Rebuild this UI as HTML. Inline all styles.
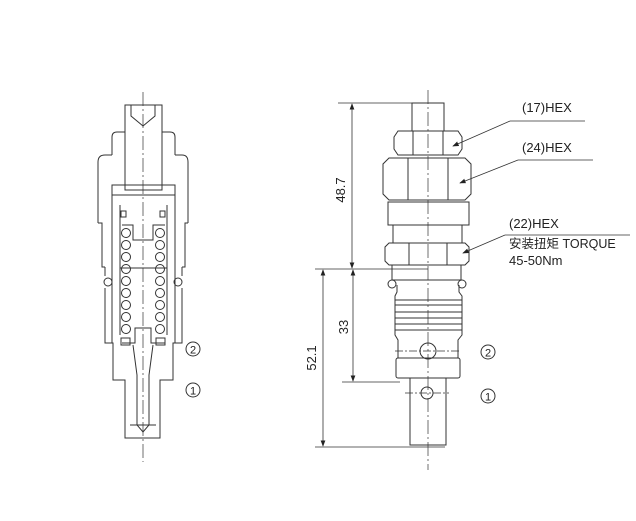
<!DOCTYPE html>
<html><head><meta charset="utf-8"><style>
html,body{margin:0;padding:0;background:#fff;width:636px;height:521px;overflow:hidden}
svg{display:block}
text{font-family:"Liberation Sans","Noto Sans CJK SC",sans-serif;fill:#222}
</style></head><body>
<svg width="636" height="521" viewBox="0 0 636 521" xmlns="http://www.w3.org/2000/svg">
<defs><marker id="a" markerWidth="8" markerHeight="6" refX="7" refY="3" orient="auto"><path d="M0,0 L8,3 L0,6 z" fill="#222"/></marker>
<marker id="b" markerWidth="8" markerHeight="6" refX="1" refY="3" orient="auto"><path d="M8,0 L0,3 L8,6 z" fill="#222"/></marker></defs>
<g stroke="#333" stroke-width="1" fill="none">
<!-- LEFT VIEW -->
<line x1="143" y1="92" x2="143" y2="462" stroke-dasharray="14,3,2,3" stroke-width="0.7"/>
<rect x="125" y="105" width="37" height="85"/>
<polyline points="131,105 131,116 143,126 155,116 155,105"/>
<path d="M112,155 V137 Q112,132 117,132 H125 M162,132 H170 Q175,132 175,137 V155"/>
<path d="M98,223 V162 Q98,155 105,155 H112 M175,155 H182 Q188,155 188,162 V223"/>
<path d="M98,223 H102 V267 H105 M188,223 H185 V267 H182"/>
<circle cx="108" cy="282" r="4"/><circle cx="178" cy="282" r="4"/>
<path d="M105,267 V276 M182,267 V276 M105,288 V343 H113 V380 H125 V438 H160 V380 H173 V343 H182 V288"/>
<rect x="112" y="185" width="63" height="10"/>
<line x1="112" y1="195" x2="112" y2="343"/><line x1="175" y1="195" x2="175" y2="343"/>
<line x1="120" y1="205" x2="120" y2="335"/><line x1="167" y1="205" x2="167" y2="335"/>
<rect x="121" y="211" width="5" height="6"/><rect x="160" y="211" width="5" height="6"/>
<path d="M122,225 H133 V240 H153 V225 H165"/>
<line x1="120" y1="268" x2="167" y2="268"/>
<g>
<circle cx="126" cy="233" r="4.5"/><circle cx="126" cy="245" r="4.5"/><circle cx="126" cy="257" r="4.5"/><circle cx="126" cy="269" r="4.5"/><circle cx="126" cy="281" r="4.5"/><circle cx="126" cy="293" r="4.5"/><circle cx="126" cy="305" r="4.5"/><circle cx="126" cy="317" r="4.5"/><circle cx="126" cy="329" r="4.5"/>
<circle cx="160" cy="233" r="4.5"/><circle cx="160" cy="245" r="4.5"/><circle cx="160" cy="257" r="4.5"/><circle cx="160" cy="269" r="4.5"/><circle cx="160" cy="281" r="4.5"/><circle cx="160" cy="293" r="4.5"/><circle cx="160" cy="305" r="4.5"/><circle cx="160" cy="317" r="4.5"/><circle cx="160" cy="329" r="4.5"/>
</g>
<path d="M122,343 H135 V328 H151 V343 H165"/>
<rect x="121" y="338" width="9" height="7"/><rect x="156" y="338" width="9" height="7"/>
<path d="M133,345 L137,375 V425 L143,432 L149,425 V375 L153,345"/>
<path d="M130,425 H156"/>
<circle cx="193" cy="349" r="7"/><circle cx="193" cy="390" r="7"/>
<!-- RIGHT VIEW -->
<line x1="428" y1="90" x2="428" y2="470" stroke-dasharray="14,3,2,3" stroke-width="0.7"/>
<rect x="412" y="103" width="32" height="28"/>
<path d="M398,131 H458 L462,137 V149 L458,155 H398 L394,149 V137 Z"/>
<line x1="413" y1="131" x2="413" y2="155"/><line x1="443" y1="131" x2="443" y2="155"/>
<path d="M389,158 H465 L471,164 V194 L465,200 H389 L383,194 V164 Z"/>
<line x1="408" y1="158" x2="408" y2="200"/><line x1="448" y1="158" x2="448" y2="200"/>
<rect x="388" y="202" width="81" height="23"/>
<rect x="393" y="225" width="69" height="18"/>
<path d="M389,243 H465 L469,247 V261 L465,265 H389 L385,261 V247 Z"/>
<line x1="409" y1="243" x2="409" y2="265"/><line x1="447" y1="243" x2="447" y2="265"/>
<rect x="392" y="265" width="69" height="15"/>
<circle cx="392" cy="284" r="4"/><circle cx="462" cy="284" r="4"/>
<path d="M397,285 V292 L395,296 V335 L398,340 V358 M459,285 V292 L462,296 V335 L458,340 V358"/>
<line x1="395" y1="300" x2="462" y2="300"/><line x1="395" y1="305" x2="462" y2="305"/><line x1="395" y1="312" x2="462" y2="312"/><line x1="395" y1="318" x2="462" y2="318"/><line x1="395" y1="324" x2="462" y2="324"/><line x1="395" y1="330" x2="462" y2="330"/>
<rect x="396" y="358" width="64" height="20" rx="2"/>
<circle cx="428" cy="351" r="8"/><line x1="395" y1="351" x2="461" y2="351" stroke-dasharray="8,2,2,2" stroke-width="0.7"/>
<path d="M410,378 V445 H446 V378"/>
<circle cx="427" cy="393" r="6"/><line x1="405" y1="393" x2="449" y2="393" stroke-dasharray="8,2,2,2" stroke-width="0.7"/>
<circle cx="488" cy="352" r="7"/><circle cx="488" cy="396" r="7"/>
<!-- dimensions -->
<g stroke-width="0.8">
<line x1="338" y1="103" x2="412" y2="103"/>
<line x1="315" y1="269" x2="428" y2="269"/>
<line x1="342" y1="382" x2="400" y2="382"/>
<line x1="315" y1="447" x2="445" y2="447"/>
<line x1="352" y1="104" x2="352" y2="268" marker-start="url(#b)" marker-end="url(#a)"/>
<line x1="353" y1="270" x2="353" y2="381" marker-start="url(#b)" marker-end="url(#a)"/>
<line x1="323" y1="270" x2="323" y2="446" marker-start="url(#b)" marker-end="url(#a)"/>
<line x1="585" y1="121" x2="510" y2="121"/><line x1="510" y1="121" x2="453" y2="146" marker-end="url(#a)"/>
<line x1="593" y1="160" x2="518" y2="160"/><line x1="518" y1="160" x2="460" y2="183" marker-end="url(#a)"/>
<line x1="630" y1="235" x2="505" y2="235"/><line x1="505" y1="235" x2="463" y2="253" marker-end="url(#a)"/>
</g>
</g>
<g font-size="13">
<text x="522" y="112">(17)HEX</text>
<text x="522" y="152">(24)HEX</text>
<text x="509" y="228">(22)HEX</text>
<text x="509" y="248" font-size="12.5">安装扭矩 TORQUE</text>
<text x="509" y="265">45-50Nm</text>
<text transform="translate(345,190) rotate(-90)" text-anchor="middle">48.7</text>
<text transform="translate(348,327) rotate(-90)" text-anchor="middle">33</text>
<text transform="translate(316,358) rotate(-90)" text-anchor="middle">52.1</text>
<text x="193" y="353.5" font-size="11" text-anchor="middle">2</text>
<text x="193" y="394.5" font-size="11" text-anchor="middle">1</text>
<text x="488" y="356.5" font-size="11" text-anchor="middle">2</text>
<text x="488" y="400.5" font-size="11" text-anchor="middle">1</text>
</g>
</svg>
</body></html>
